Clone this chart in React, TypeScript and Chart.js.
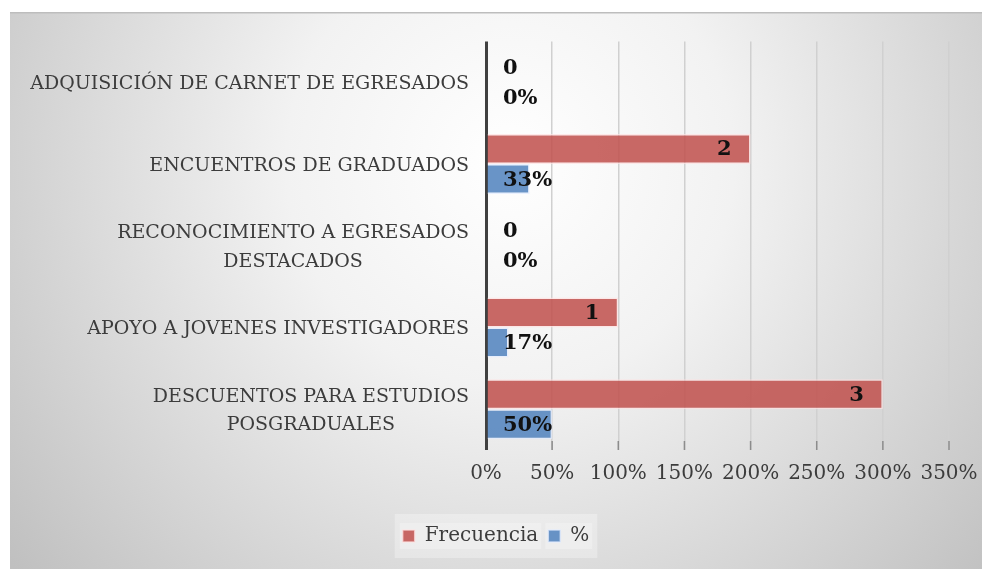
import React, { useEffect, useRef } from "react";
import { Chart, registerables } from "chart.js";

Chart.register(...registerables);

// ---- data ----
const categories: string[][] = [
  ["ADQUISICIÓN DE CARNET DE EGRESADOS"],
  ["ENCUENTROS DE GRADUADOS"],
  ["RECONOCIMIENTO A EGRESADOS", "DESTACADOS"],
  ["APOYO A JOVENES INVESTIGADORES"],
  ["DESCUENTOS PARA ESTUDIOS", "POSGRADUALES"],
];
const frecuencia = [0, 2, 0, 1, 3];
const porcentaje = [0, 0.33, 0, 0.17, 0.5];
const seriesNames = ["Frecuencia", "%"];
const axisMin = 0;
const axisMax = 3.5;
const axisStep = 0.5;

// ---- styles ----
const W = 972;
const H = 557;
const FONT = "'DejaVu Serif', serif";
const TEXT = "#3c3c3c";
const RED = "rgba(192,80,77,0.86)";
const BLUE = "rgba(79,129,189,0.85)";

const pct = (v: number) => Math.round(v * 100) + "%";

const backgroundPlugin = {
  id: "bgPlugin",
  beforeDraw(chart: any) {
    const ctx = chart.ctx;
    ctx.save();
    const g = ctx.createRadialGradient(500, 150, 0, 500, 150, 640);
    g.addColorStop(0, "#ffffff");
    g.addColorStop(0.35, "#f2f2f2");
    g.addColorStop(1, "#c0c0c0");
    ctx.fillStyle = g;
    ctx.fillRect(0, 0, W, H);
    ctx.fillStyle = "#bdbdbd";
    ctx.fillRect(0, 0, W, 1.5);
    const lg = chart.legend;
    if (lg && lg.legendHitBoxes && lg.legendHitBoxes.length) {
      let l = Infinity, r = -Infinity, t = Infinity, b = -Infinity;
      lg.legendHitBoxes.forEach((h: any) => {
        l = Math.min(l, h.left);
        r = Math.max(r, h.left + h.width);
        t = Math.min(t, h.top);
        b = Math.max(b, h.top + h.height);
      });
      ctx.fillStyle = "rgba(255,255,255,0.3)";
      ctx.fillRect(l - 8, t - 12, r - l + 16, b - t + 24);
      ctx.fillStyle = "rgba(255,255,255,0.25)";
      lg.legendHitBoxes.forEach((h: any) => {
        ctx.fillRect(h.left - 3, h.top - 3, h.width + 6, h.height + 6);
      });
    }
    ctx.restore();
  },
  beforeDatasetsDraw(chart: any) {
    const ctx = chart.ctx;
    const xs = chart.scales.x;
    const bottom = chart.chartArea.bottom;
    ctx.save();
    ctx.strokeStyle = "#8c8c8c";
    ctx.lineWidth = 1.5;
    xs.ticks.forEach((_t: any, i: number) => {
      if (i === 0) return;
      const x = xs.getPixelForTick(i);
      ctx.beginPath();
      ctx.moveTo(x, bottom - 9);
      ctx.lineTo(x, bottom);
      ctx.stroke();
    });
    ctx.restore();
  },
  afterDatasetsDraw(chart: any) {
    const ctx = chart.ctx;
    const xs = chart.scales.x;
    const base = xs.getPixelForValue(0);
    ctx.save();
    ctx.font = `bold 21px ${FONT}`;
    ctx.fillStyle = "#111111";
    ctx.textBaseline = "middle";
    chart.getDatasetMeta(0).data.forEach((bar: any, i: number) => {
      const v = frecuencia[i];
      if (v > 0) {
        ctx.textAlign = "right";
        ctx.fillText(String(v), bar.x - 19, bar.y + 1);
      } else {
        ctx.textAlign = "left";
        ctx.fillText(String(v), base + 17, bar.y + 1);
      }
    });
    chart.getDatasetMeta(1).data.forEach((bar: any, i: number) => {
      ctx.textAlign = "left";
      ctx.fillText(pct(porcentaje[i]), base + 17, bar.y + 1);
    });
    ctx.restore();
  },
  afterDraw(chart: any) {
    const ctx = chart.ctx;
    const ys = chart.scales.y;
    const rightX = chart.chartArea.left - 17;
    ctx.save();
    ctx.font = `19px ${FONT}`;
    ctx.fillStyle = TEXT;
    ctx.textBaseline = "middle";
    ctx.textAlign = "center";
    const lh = 28.5;
    categories.forEach((lines, i) => {
      const yc = ys.getPixelForValue(i) + 2;
      const bw = Math.max(...lines.map((s) => ctx.measureText(s).width));
      const cx = rightX - bw / 2;
      lines.forEach((s, j) => {
        ctx.fillText(s, cx, yc + (j - (lines.length - 1) / 2) * lh);
      });
    });
    ctx.restore();
  },
};

export default function App() {
  const ref = useRef<HTMLCanvasElement | null>(null);
  useEffect(() => {
    if (!ref.current) return;
    const chart = new Chart(ref.current, {
      type: "bar",
      data: {
        labels: categories,
        datasets: [
          {
            label: seriesNames[0],
            data: frecuencia,
            backgroundColor: RED,
            borderColor: "rgba(255,225,225,0.7)",
            borderWidth: 1.5,
            categoryPercentage: 0.735,
            barPercentage: 1,
            yAxisID: "y",
          },
          {
            label: seriesNames[1],
            data: porcentaje,
            backgroundColor: BLUE,
            borderColor: "rgba(225,235,255,0.7)",
            borderWidth: 1.5,
            categoryPercentage: 0.735,
            barPercentage: 1,
            yAxisID: "y",
          },
        ],
      },
      options: {
        indexAxis: "y",
        responsive: false,
        animation: false,
        events: [],
        layout: { padding: { left: 0, right: 0, top: 29.5, bottom: 13 } },
        scales: {
          y: {
            display: true,
            offset: true,
            ticks: { display: false },
            grid: { display: false },
            border: { display: false },
            afterFit: (scale: any) => {
              scale.width = 476;
            },
          },
          yRight: {
            type: "category",
            position: "right",
            axis: "y",
            display: true,
            ticks: { display: false },
            grid: { display: false },
            border: { display: false },
            afterFit: (scale: any) => {
              scale.width = 33;
            },
          },
          x: {
            min: axisMin,
            max: axisMax,
            afterFit: (scale: any) => {
              scale.height = 66;
              scale.paddingRight = 0;
              scale.paddingLeft = 0;
            },
            border: { display: false },
            grid: {
              drawTicks: false,
              color: (c: any) => (c.tick && c.tick.value === 0 ? "#404040" : "#d0d0d0"),
              lineWidth: (c: any) => (c.tick && c.tick.value === 0 ? 3 : 1.5),
            },
            ticks: {
              stepSize: axisStep,
              padding: 11.5,
              color: TEXT,
              maxRotation: 0,
              autoSkip: false,
              font: { family: FONT, size: 20 },
              callback: (v: any) => pct(Number(v)),
            },
          },
        },
        plugins: {
          legend: {
            position: "bottom",
            labels: {
              boxWidth: 12,
              boxHeight: 12,
              padding: 10,
              color: TEXT,
              font: { family: FONT, size: 20 },
            },
          },
          tooltip: { enabled: false },
        },
      },
      plugins: [backgroundPlugin],
    });
    return () => chart.destroy();
  }, []);
  return (
    <div style={{ position: "fixed", left: 10, top: 12, width: W, height: H }}>
      <canvas ref={ref} width={W} height={H} style={{ display: "block" }} />
    </div>
  );
}
